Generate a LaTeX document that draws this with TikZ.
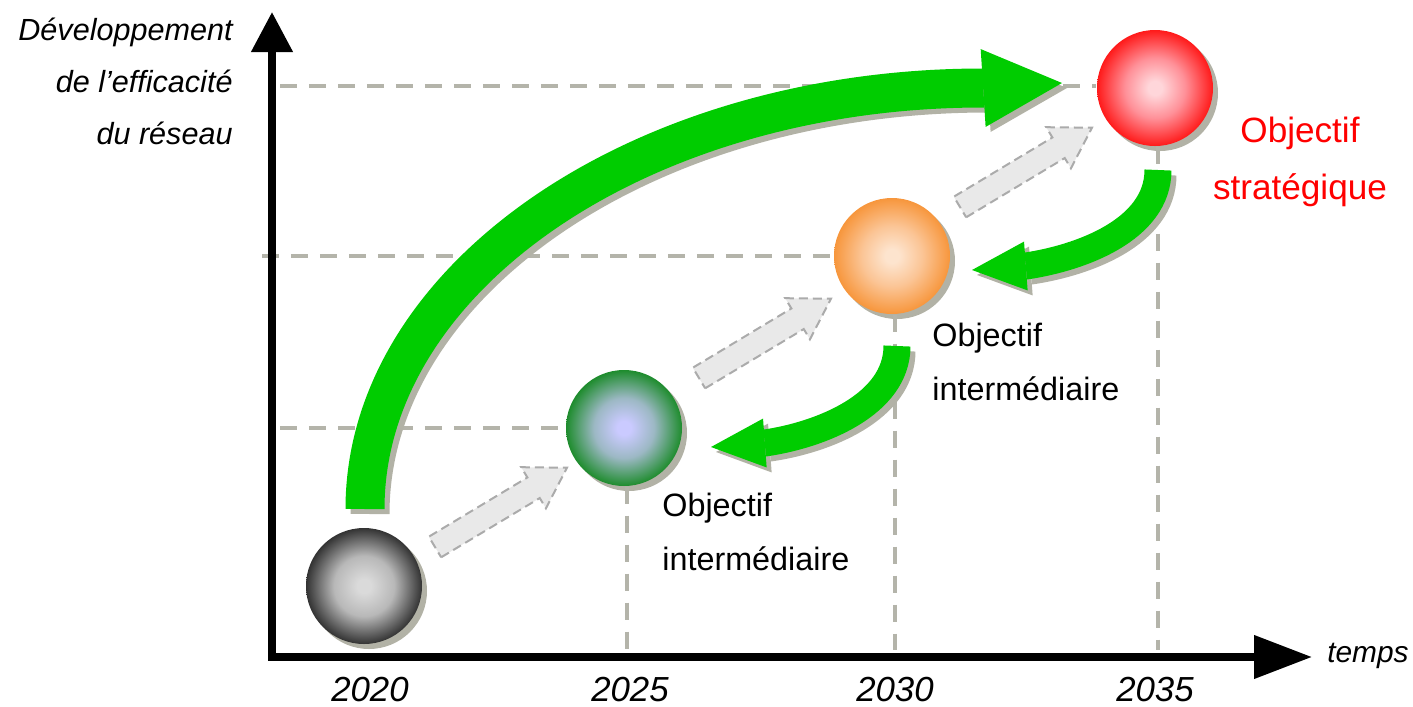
\documentclass[tikz,border=0pt]{standalone}
\usepackage{fontspec}
\setmainfont{Liberation Sans}
\usetikzlibrary{arrows.meta, calc, shadows}
\definecolor{arrowgreen}{HTML}{00CC00}
\definecolor{shadowgray}{HTML}{B2B2A6}
\definecolor{guidegray}{HTML}{B4B4AA}
\definecolor{ghostfill}{HTML}{E9E9E9}
\definecolor{ghostline}{HTML}{ABABAB}
\definecolor{grayin}{HTML}{DADADA}
\definecolor{graymid}{HTML}{B8B8B8}
\definecolor{grayout}{HTML}{333333}
\definecolor{greenin}{HTML}{CACAFF}
\definecolor{greenmid}{HTML}{9CB8C4}
\definecolor{greenout}{HTML}{1E8C2D}
\definecolor{orangein}{HTML}{FDE4CE}
\definecolor{orangemid}{HTML}{FBC596}
\definecolor{orangeout}{HTML}{F7963C}
\definecolor{redin}{HTML}{FFD6DA}
\definecolor{redmid}{HTML}{FF9098}
\definecolor{redout}{HTML}{FF1A1A}
\pgfdeclareradialshading{graysph}{\pgfpoint{0bp}{0bp}}{color(0bp)=(grayin); color(3bp)=(grayin); color(13bp)=(graymid); color(25bp)=(grayout); color(50bp)=(grayout)}
\pgfdeclareradialshading{greensph}{\pgfpoint{0bp}{0bp}}{color(0bp)=(greenin); color(3bp)=(greenin); color(13bp)=(greenmid); color(25bp)=(greenout); color(50bp)=(greenout)}
\pgfdeclareradialshading{orangesph}{\pgfpoint{0bp}{0bp}}{color(0bp)=(orangein); color(3bp)=(orangein); color(13bp)=(orangemid); color(25bp)=(orangeout); color(50bp)=(orangeout)}
\pgfdeclareradialshading{redsph}{\pgfpoint{0bp}{0bp}}{color(0bp)=(redin); color(3bp)=(redin); color(13bp)=(redmid); color(25bp)=(redout); color(50bp)=(redout)}
\tikzset{
    sphere/.style={circle, shade, inner sep=0pt, minimum size=1.16cm,
        drop shadow={shadow xshift=0.05cm, shadow yshift=-0.05cm, fill=shadowgray, opacity=1}},
    guide/.style={guidegray, line width=0.04cm, dash pattern=on 0.17cm off 0.12cm},
    axisline/.style={line width=0.075cm, line join=miter,
        {Triangle[length=0.40cm, width=0.40cm]}-{Triangle[length=0.58cm, width=0.42cm]}},
    bigarrow/.style={line width=0.39cm, -{Triangle[length=0.79cm, width=0.78cm, line width=0pt]}},
    backarrow/.style={line width=0.27cm, -{Triangle[length=0.54cm, width=0.49cm, line width=0pt]}},
    ghost/.pic={\draw[ghostline, fill=ghostfill, line width=0.02cm, dash pattern=on 0.09cm off 0.05cm]
        (0,-0.12) -- (1.15,-0.12) -- (1.15,-0.24) -- (1.54,0) -- (1.15,0.24) -- (1.15,0.12) -- (0,0.12) -- cycle;},
    yearlbl/.style={font=\itshape\fontsize{9.9}{12}\selectfont},
    goal/.style={align=left, font=\fontsize{9.2}{15.6}\selectfont}
}

\begin{document}
\begin{tikzpicture}
    \useasboundingbox (0,0) rectangle (14.13,7.06);

    \node[sphere, shading=graysph] (s2020) at (3.64,1.20) {};
    \node[sphere, shading=greensph] (s2025) at (6.24,2.78) {};
    \node[sphere, shading=orangesph] (s2030) at (8.92,4.50) {};
    \node[sphere, shading=redsph] (s2035) at (11.55,6.18) {};

    % guide lines
    \draw[guide] (2.80,6.20) -- (s2035.west |- 0,6.20);
    \draw[guide] (2.62,4.50) -- (s2030.west);
    \draw[guide] (2.80,2.78) -- (s2025.west);
    \foreach \s in {s2025, s2030, s2035}
        \draw[guide] ([xshift=0.03cm]\s.south) -- ([xshift=0.03cm]\s.south |- 0,0.56);

    % steps
    \foreach \x/\y in {4.35/1.59, 6.99/3.28, 9.60/4.99}
        \pic[rotate=31] at (\x,\y) {ghost};

    \coordinate (bigstart) at (3.65,1.97);
    \coordinate (bigend) at (10.62,6.23);
    \coordinate (upstart) at (11.58,5.36);
    \coordinate (upend) at (9.72,4.36);
    \coordinate (lowstart) at (8.97,3.60);
    \coordinate (lowend) at (7.11,2.59);

    \foreach \d/\c in {0.05/shadowgray, 0/arrowgreen} {
        \begin{scope}[transform canvas={shift={(\d,-\d)}}]
            \draw[bigarrow, \c] (bigstart) .. controls (3.65,4.29) and (6.42,6.18) .. (9.83,6.18) -- (bigend);
            \draw[backarrow, \c] (upstart) .. controls (11.58,4.76) and (10.80,4.48) .. (10.26,4.40) -- (upend);
            \draw[backarrow, \c] (lowstart) .. controls (8.97,3.01) and (8.20,2.71) .. (7.65,2.63) -- (lowend);
        \end{scope}
    }

    % axes
    \coordinate (origin) at (2.72,0.49);
    \draw[axisline] (2.72,6.94) -- (origin) -- (13.12,0.49);

    \node[yearlbl] (y2020) at (3.70,0.16) {2020};
    \node[yearlbl] (y2025) at (6.30,0.16) {2025};
    \node[yearlbl] (y2030) at (8.95,0.16) {2030};
    \node[yearlbl] (y2035) at (11.55,0.16) {2035};
    \node[font=\itshape\fontsize{8.5}{10}\selectfont] (temps) at (13.68,0.50) {temps};
    \node[anchor=east, align=right, font=\itshape\fontsize{8.7}{14.8}\selectfont] (ylbl) at (2.45,6.25)
        {Développement\\de l’efficacité\\du réseau};
    \node[align=center, red, font=\fontsize{10}{16.2}\selectfont] (strat) at (13.00,5.44)
        {Objectif\\stratégique};
    \node[goal, anchor=west] (inter1) at (9.20,3.44) {Objectif\\intermédiaire};
    \node[goal, anchor=west] (inter2) at (6.50,1.74) {Objectif\\intermédiaire};
\end{tikzpicture}
\end{document}
